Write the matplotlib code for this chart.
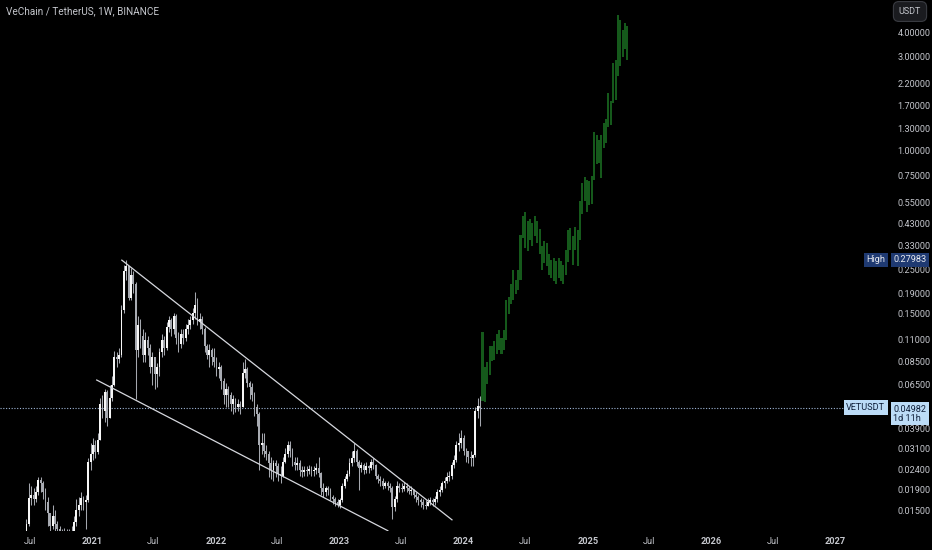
import numpy as np
import pandas as pd
import matplotlib
matplotlib.use("Agg")
import matplotlib.pyplot as plt
import matplotlib.dates as mdates

plt.rcParams['font.family'] = ['Roboto', 'DejaVu Sans']

# weekly candles VET/USDT, first week 2020-06-22
debut = '2020-06-22'
cloture = [
    0.0128, 0.0172, 0.0180, 0.0170, 0.0185, 0.0213, 0.0205, 0.0185, 0.0165, 0.0145,
    0.0125, 0.0140, 0.0128, 0.0120, 0.0118, 0.0113, 0.0116, 0.0114, 0.0112, 0.0118,
    0.0130, 0.0150, 0.0160, 0.0172, 0.0165, 0.0168, 0.0262, 0.0290, 0.0320, 0.0295,
    0.0340, 0.0520, 0.0480, 0.0600, 0.0440, 0.0560, 0.0650, 0.0900, 0.0880, 0.0920,
    0.1550, 0.2450, 0.2620, 0.1800, 0.2350, 0.2100, 0.0980, 0.1300, 0.1150, 0.0920,
    0.1100, 0.1000, 0.0800, 0.0900, 0.0740, 0.0800, 0.0950, 0.1100, 0.1000, 0.1280,
    0.1380, 0.1250, 0.1450, 0.1120, 0.1050, 0.1180, 0.1120, 0.1250, 0.1300, 0.1380,
    0.1500, 0.1650, 0.1350, 0.1400, 0.1250, 0.1020, 0.0920, 0.0980, 0.0900, 0.0850,
    0.0780, 0.0800, 0.0680, 0.0580, 0.0620, 0.0580, 0.0520, 0.0550, 0.0500, 0.0520,
    0.0500, 0.0750, 0.0780, 0.0660, 0.0630, 0.0580, 0.0500, 0.0460, 0.0320, 0.0330,
    0.0300, 0.0290, 0.0260, 0.0240, 0.0260, 0.0250, 0.0230, 0.0225, 0.0265, 0.0290,
    0.0320, 0.0300, 0.0265, 0.0255, 0.0260, 0.0240, 0.0235, 0.0240, 0.0238, 0.0242,
    0.0238, 0.0240, 0.0245, 0.0232, 0.0195, 0.0185, 0.0195, 0.0190, 0.0175, 0.0170,
    0.0165, 0.0160, 0.0168, 0.0200, 0.0215, 0.0230, 0.0260, 0.0275, 0.0300, 0.0265,
    0.0245, 0.0255, 0.0240, 0.0250, 0.0245, 0.0265, 0.0255, 0.0225, 0.0215, 0.0212,
    0.0200, 0.0205, 0.0198, 0.0195, 0.0155, 0.0170, 0.0200, 0.0195, 0.0192, 0.0200,
    0.0195, 0.0188, 0.0190, 0.0180, 0.0175, 0.0168, 0.0165, 0.0160, 0.0158, 0.0165,
    0.0168, 0.0165, 0.0170, 0.0185, 0.0190, 0.0205, 0.0210, 0.0220, 0.0225, 0.0255,
    0.0270, 0.0320, 0.0330, 0.0350, 0.0300, 0.0300, 0.0280, 0.0275, 0.0285, 0.0480,
    0.0510, 0.0498]
haut = [
    0.0135, 0.0205, 0.0200, 0.0195, 0.0200, 0.0222, 0.0220, 0.0210, 0.0195, 0.0175,
    0.0145, 0.0160, 0.0150, 0.0132, 0.0124, 0.0121, 0.0122, 0.0121, 0.0120, 0.0125,
    0.0140, 0.0170, 0.0175, 0.0185, 0.0178, 0.0180, 0.0275, 0.0330, 0.0350, 0.0340,
    0.0370, 0.0560, 0.0580, 0.0620, 0.0610, 0.0650, 0.0720, 0.0960, 0.0950, 0.1000,
    0.1650, 0.2650, 0.2798, 0.2600, 0.2550, 0.2450, 0.2150, 0.1450, 0.1400, 0.1250,
    0.1200, 0.1150, 0.1050, 0.0950, 0.0900, 0.0840, 0.1000, 0.1180, 0.1150, 0.1350,
    0.1450, 0.1420, 0.1500, 0.1480, 0.1200, 0.1250, 0.1250, 0.1320, 0.1400, 0.1450,
    0.1600, 0.1920, 0.1800, 0.1500, 0.1450, 0.1280, 0.1050, 0.1050, 0.1000, 0.1000,
    0.0900, 0.0850, 0.0820, 0.0700, 0.0660, 0.0640, 0.0600, 0.0580, 0.0560, 0.0550,
    0.0540, 0.0850, 0.0880, 0.0800, 0.0680, 0.0660, 0.0600, 0.0520, 0.0470, 0.0370,
    0.0370, 0.0320, 0.0300, 0.0280, 0.0270, 0.0270, 0.0260, 0.0250, 0.0280, 0.0310,
    0.0338, 0.0335, 0.0310, 0.0280, 0.0280, 0.0270, 0.0250, 0.0250, 0.0250, 0.0255,
    0.0250, 0.0250, 0.0260, 0.0280, 0.0235, 0.0205, 0.0200, 0.0200, 0.0195, 0.0180,
    0.0175, 0.0170, 0.0172, 0.0205, 0.0225, 0.0240, 0.0275, 0.0300, 0.0330, 0.0305,
    0.0270, 0.0265, 0.0260, 0.0262, 0.0255, 0.0272, 0.0275, 0.0258, 0.0230, 0.0225,
    0.0218, 0.0212, 0.0210, 0.0205, 0.0198, 0.0178, 0.0210, 0.0205, 0.0205, 0.0208,
    0.0205, 0.0200, 0.0198, 0.0192, 0.0185, 0.0180, 0.0172, 0.0170, 0.0168, 0.0172,
    0.0175, 0.0172, 0.0178, 0.0192, 0.0200, 0.0212, 0.0220, 0.0235, 0.0238, 0.0265,
    0.0285, 0.0335, 0.0370, 0.0385, 0.0360, 0.0310, 0.0295, 0.0300, 0.0290, 0.0500,
    0.0560, 0.0570]
bas = [
    0.0110, 0.0125, 0.0160, 0.0160, 0.0165, 0.0180, 0.0185, 0.0170, 0.0150, 0.0125,
    0.0115, 0.0120, 0.0118, 0.0110, 0.0108, 0.0105, 0.0108, 0.0106, 0.0104, 0.0108,
    0.0112, 0.0125, 0.0140, 0.0150, 0.0150, 0.0120, 0.0165, 0.0240, 0.0270, 0.0275,
    0.0290, 0.0340, 0.0440, 0.0420, 0.0400, 0.0440, 0.0540, 0.0640, 0.0800, 0.0840,
    0.0900, 0.1500, 0.2200, 0.1750, 0.1750, 0.1900, 0.0550, 0.0900, 0.1000, 0.0850,
    0.0850, 0.0920, 0.0750, 0.0650, 0.0620, 0.0630, 0.0720, 0.0900, 0.0920, 0.0980,
    0.1200, 0.1150, 0.1180, 0.1050, 0.0950, 0.1000, 0.1050, 0.1080, 0.1180, 0.1250,
    0.1320, 0.1400, 0.1300, 0.1250, 0.1180, 0.0950, 0.0880, 0.0800, 0.0820, 0.0800,
    0.0720, 0.0700, 0.0620, 0.0520, 0.0500, 0.0500, 0.0480, 0.0460, 0.0470, 0.0480,
    0.0460, 0.0500, 0.0700, 0.0630, 0.0550, 0.0540, 0.0450, 0.0400, 0.0240, 0.0290,
    0.0280, 0.0270, 0.0220, 0.0215, 0.0210, 0.0220, 0.0210, 0.0205, 0.0220, 0.0260,
    0.0280, 0.0280, 0.0250, 0.0240, 0.0240, 0.0225, 0.0220, 0.0225, 0.0225, 0.0228,
    0.0225, 0.0225, 0.0230, 0.0220, 0.0180, 0.0175, 0.0178, 0.0180, 0.0168, 0.0162,
    0.0158, 0.0155, 0.0154, 0.0165, 0.0195, 0.0210, 0.0225, 0.0250, 0.0265, 0.0250,
    0.0190, 0.0235, 0.0228, 0.0232, 0.0232, 0.0240, 0.0242, 0.0215, 0.0205, 0.0200,
    0.0192, 0.0195, 0.0190, 0.0185, 0.0135, 0.0148, 0.0165, 0.0185, 0.0185, 0.0188,
    0.0185, 0.0182, 0.0180, 0.0172, 0.0165, 0.0160, 0.0155, 0.0152, 0.0152, 0.0158,
    0.0160, 0.0158, 0.0160, 0.0165, 0.0178, 0.0185, 0.0195, 0.0205, 0.0212, 0.0215,
    0.0245, 0.0265, 0.0300, 0.0310, 0.0285, 0.0265, 0.0260, 0.0250, 0.0250, 0.0280,
    0.0440, 0.0400]
ouverture_initiale = 0.0112

# projection (barres vertes) : haut et bas par semaine, a la suite des bougies
proj_haut = [
    0.120, 0.080, 0.0845, 0.102, 0.102, 0.109, 0.117, 0.123, 0.112, 0.123,
    0.175, 0.182, 0.210, 0.249, 0.221, 0.249, 0.373, 0.470, 0.490, 0.440,
    0.450, 0.430, 0.470, 0.440, 0.400, 0.330, 0.350, 0.340, 0.300, 0.280,
    0.285, 0.275, 0.285, 0.275, 0.263, 0.315, 0.397, 0.405, 0.370, 0.410,
    0.397, 0.560, 0.690, 0.740, 0.710, 0.700, 0.750, 1.250, 1.200, 1.140,
    1.200, 1.380, 1.450, 1.980, 1.800, 2.800, 2.900, 4.900, 4.600, 4.100,
    4.450, 4.300]
proj_bas = [
    0.054, 0.053, 0.0652, 0.073, 0.086, 0.087, 0.093, 0.098, 0.093, 0.098,
    0.110, 0.148, 0.168, 0.175, 0.188, 0.197, 0.221, 0.361, 0.320, 0.310,
    0.355, 0.330, 0.370, 0.340, 0.300, 0.250, 0.270, 0.260, 0.235, 0.227,
    0.218, 0.210, 0.227, 0.218, 0.210, 0.235, 0.272, 0.315, 0.265, 0.315,
    0.260, 0.355, 0.480, 0.560, 0.490, 0.530, 0.540, 0.710, 0.860, 0.870,
    0.730, 1.030, 1.100, 1.320, 1.350, 1.750, 1.820, 2.400, 2.700, 3.000,
    3.300, 2.900]

# lignes de tendance (date, prix)
ligne_haute_dates = ['2021-03-30', '2023-11-28']
ligne_haute_prix = [0.279, 0.0134]
ligne_basse_dates = ['2021-01-15', '2023-05-23']
ligne_basse_prix = [0.0687, 0.0118]

prix_actuel = 0.04982
prix_haut = 0.27983

graduations_prix = [4.0, 3.0, 2.2, 1.7, 1.3, 1.0, 0.75, 0.55, 0.43, 0.33, 0.25,
                    0.19, 0.15, 0.11, 0.085, 0.065, 0.039, 0.031, 0.024, 0.019, 0.015]
graduations_dates = ['2020-07-01', '2021-01-01', '2021-07-01', '2022-01-01', '2022-07-01',
                     '2023-01-01', '2023-07-01', '2024-01-01', '2024-07-01', '2025-01-01',
                     '2025-07-01', '2026-01-01', '2026-07-01', '2027-01-01']
etiquettes_dates = ['Jul', '2021', 'Jul', '2022', 'Jul', '2023', 'Jul', '2024', 'Jul',
                    '2025', 'Jul', '2026', 'Jul', '2027']

# couleurs
fond = '#000000'
blanc = '#f7f7f7'
gris = '#a8abb2'
vert = '#15591b'
texte = '#c4c6cc'

# Début du programme principal
fig = plt.figure(figsize=(9.32, 5.5), dpi=100, facecolor=fond)
ax = fig.add_axes([0, 19/550, 888/932, 531/550])
ax.set_facecolor(fond)

semaines = pd.date_range(debut, periods=len(cloture), freq='7D')
x = mdates.date2num(semaines)
ouverture = [ouverture_initiale] + cloture[:-1]

for i in range(len(cloture)):
    o = ouverture[i]
    c = cloture[i]
    if c >= o:
        coul = blanc
    else:
        coul = gris
    ax.vlines(x[i], bas[i], haut[i], color='#a4a7ae', lw=0.75, zorder=2)
    ax.bar(x[i], abs(c - o), bottom=min(o, c), width=5.4, color=coul,
           linewidth=0, zorder=3)

semaines_proj = pd.date_range(semaines[-1] + pd.Timedelta(days=7), periods=len(proj_haut), freq='7D')
xp = mdates.date2num(semaines_proj)
for i in range(len(proj_haut)):
    ax.bar(xp[i], proj_haut[i] - proj_bas[i], bottom=proj_bas[i], width=6.0,
           color=vert, linewidth=0, zorder=3)

# lignes de tendance
ax.plot(mdates.datestr2num(ligne_haute_dates), ligne_haute_prix, color='#d6d8de', lw=0.9, zorder=4)
ax.plot(mdates.datestr2num(ligne_basse_dates), ligne_basse_prix, color='#d6d8de', lw=0.9, zorder=4)

# ligne du prix actuel
ax.axhline(prix_actuel, color='#9fb6d6', lw=0.8, ls=(0, (1, 1.5)), zorder=1)

ax.set_yscale('log')
ax.set_ylim(0.01176, 5.84)
ax.set_xlim(mdates.datestr2num('2020-04-05'), mdates.datestr2num('2027-06-05'))

ax.yaxis.tick_right()
ax.set_yticks(graduations_prix)
ax.set_yticklabels(['%.5f' % v for v in graduations_prix])
ax.yaxis.set_minor_locator(matplotlib.ticker.NullLocator())
ax.tick_params(axis='y', length=0, pad=7, labelsize=6.6, labelcolor=texte)

ax.set_xticks(mdates.datestr2num(graduations_dates))
ax.set_xticklabels(etiquettes_dates)
ax.tick_params(axis='x', length=0, pad=4, labelsize=6.6, labelcolor=texte)
for lab in ax.get_xticklabels():
    if lab.get_text() != 'Jul':
        lab.set_fontweight('bold')

for s in ax.spines.values():
    s.set_visible(False)

# titre
fig.text(6/932, 1 - 11/550, 'VeChain / TetherUS, 1W, BINANCE', color=texte, fontsize=7.2,
         va='center', ha='left')

# bouton USDT
fig.text(910/932, 1 - 11.5/550, 'USDT', color=texte, fontsize=6.5, ha='center', va='center',
         bbox=dict(boxstyle='round,pad=0.6', fc='#1a1b1f', ec='#3a3c42', lw=0.8))

# étiquettes High et prix actuel
trans = ax.get_yaxis_transform()
ax.text(0.997, prix_haut, 'High', transform=trans, ha='right', va='center', fontsize=6.6,
        color='#e8eaf0', bbox=dict(boxstyle='square,pad=0.3', fc='#1f3a72', ec='none'), clip_on=False)
ax.text(1.006, prix_haut, '%.5f' % prix_haut, transform=trans, ha='left', va='center', fontsize=6.6,
        color='#e8eaf0', bbox=dict(boxstyle='square,pad=0.3', fc='#1f3a72', ec='none'), clip_on=False)
ax.text(0.997, prix_actuel, 'VETUSDT', transform=trans, ha='right', va='center', fontsize=6.6,
        color='#10203a', bbox=dict(boxstyle='square,pad=0.3', fc='#bcdcf7', ec='none'), clip_on=False)
ax.text(1.006, prix_actuel * 1.035, '%.5f\n1d 11h' % prix_actuel, transform=trans, ha='left',
        va='top', fontsize=6.6, color='#10203a', linespacing=1.0,
        bbox=dict(boxstyle='square,pad=0.3', fc='#bcdcf7', ec='none'), clip_on=False)

fig.savefig('out.png', dpi=100, facecolor=fond)
